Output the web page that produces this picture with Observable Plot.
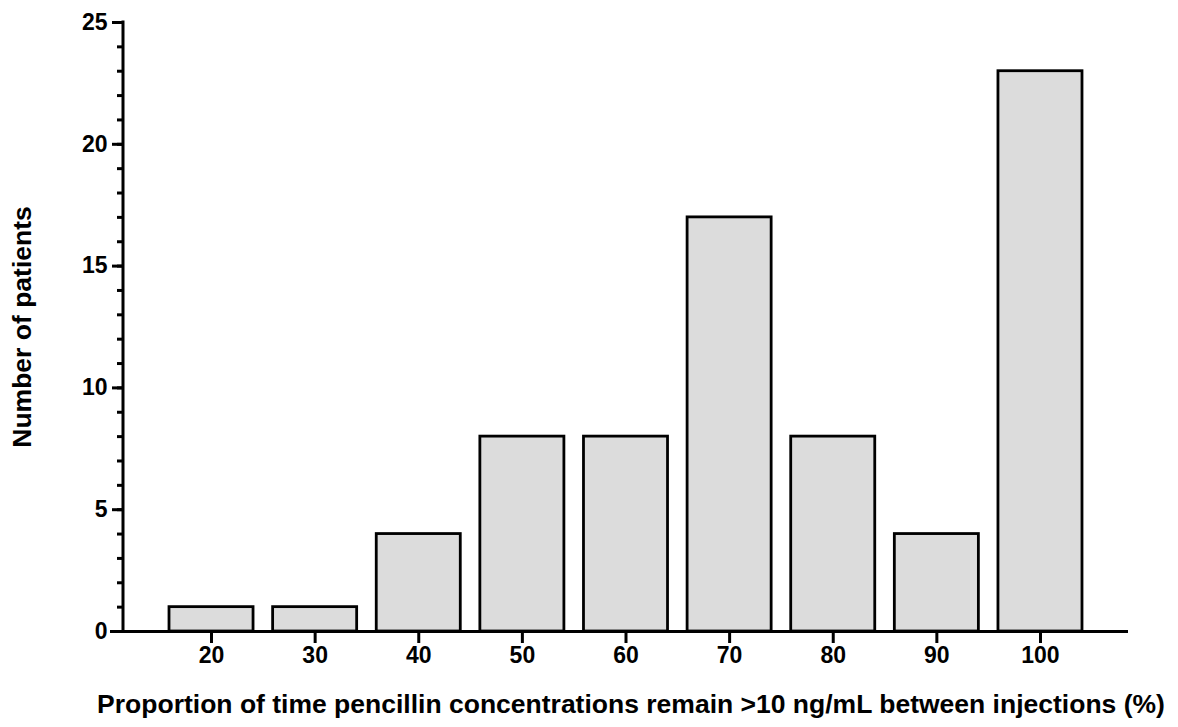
<!DOCTYPE html>
<html>
<head>
<meta charset="utf-8">
<script src="https://cdn.jsdelivr.net/npm/d3@7"></script>
<script src="https://cdn.jsdelivr.net/npm/@observablehq/plot@0.6"></script>
<style>
  html, body { margin: 0; padding: 0; background: white; }
</style>
</head>
<body>
<div id="chart"></div>
<script>
const categories = ["20", "30", "40", "50", "60", "70", "80", "90", "100"];
const counts = [1, 1, 4, 8, 8, 17, 8, 4, 23];
const yMajorTicks = [0, 5, 10, 15, 20, 25];
const yMinorTicks = [0,1,2,3,4,5,6,7,8,9,10,11,12,13,14,15,16,17,18,19,20,21,22,23,24,25];
const yLabel = "Number of patients";
const xLabel = "Proportion of time pencillin concentrations remain >10 ng/mL between injections (%)";

const data = categories.map((c, i) => ({category: c, count: counts[i]}));
const font = '"Liberation Sans", Arial, Helvetica, sans-serif';

const chart = Plot.plot({
  width: 1178,
  height: 727,
  marginLeft: 123,
  marginRight: 50,
  marginTop: 22,
  marginBottom: 96,
  style: {fontFamily: font, color: "black", background: "white", overflow: "visible"},
  x: {domain: categories, paddingInner: 0.189, paddingOuter: 0.444, align: 0.5, round: false},
  y: {domain: [0, 25]},
  marks: [
    Plot.barY(data, {x: "category", y: "count", fill: "#dcdcdc", stroke: "black", strokeWidth: 2.8}),
    Plot.ruleY([0], {stroke: "black", strokeWidth: 3, insetLeft: -13}),
    Plot.axisY({ticks: yMinorTicks, tickSize: 6, strokeWidth: 3, fill: "none", label: null}),
    Plot.axisY({ticks: yMajorTicks, tickSize: 11, strokeWidth: 3, tickPadding: 5, fontSize: 23, fontWeight: "bold", label: null}),
    Plot.axisX({tickSize: 12, strokeWidth: 3, tickPadding: 3, fontSize: 23, fontWeight: "bold", label: null}),
    Plot.text([yLabel], {frameAnchor: "left", rotate: -90, dx: -101, fontSize: 26.5, fontWeight: "bold", textAnchor: "middle", lineAnchor: "middle"}),
    Plot.text([xLabel], {frameAnchor: "bottom", dx: 5, dy: 73, fontSize: 26.5, fontWeight: "bold", textAnchor: "middle", lineAnchor: "middle"})
  ]
});

const xs = chart.scale("x");
const ys = chart.scale("y");
d3.select(chart).append("line")
  .attr("x1", xs.range[0]).attr("x2", xs.range[0])
  .attr("y1", ys.apply(0)).attr("y2", ys.apply(25))
  .attr("stroke", "black").attr("stroke-width", 3).attr("stroke-linecap", "square");

document.getElementById("chart").appendChild(chart);
</script>
</body>
</html>
